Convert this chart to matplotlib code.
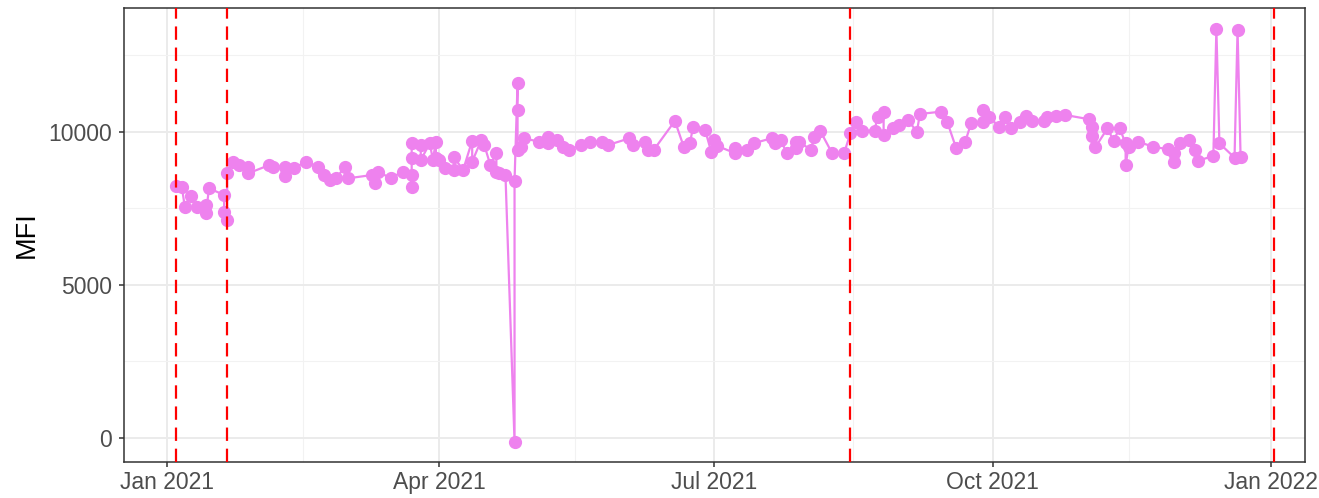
import numpy as np
import pandas as pd
import matplotlib
matplotlib.use("Agg")
import matplotlib.pyplot as plt

plt.rcParams['font.family'] = ['Liberation Sans', 'DejaVu Sans']

# days since 2021-01-01 and MFI values
day = [3, 5, 6, 8, 10, 13, 13, 14, 19, 19, 20, 20, 22, 24, 27, 27, 34, 35, 39, 39,
       42, 46, 50, 52, 54, 56, 59, 60, 68, 69, 70, 74, 78, 81, 81, 81, 81, 84, 84, 87,
       88, 89, 89, 90, 92, 95, 95, 98, 101, 101, 104, 105, 107, 109, 109, 110, 112, 115, 115, 116,
       116, 116, 117, 118, 123, 126, 126, 129, 131, 133, 137, 140, 144, 146, 153, 154, 158, 159, 161, 168,
       171, 173, 174, 178, 180, 181, 182, 188, 188, 192, 194, 200, 201, 203, 205, 208, 208, 209, 213, 214,
       216, 220, 224, 226, 228, 230, 234, 235, 237, 237, 240, 242, 245, 248, 249, 256, 258, 261, 264, 266,
       270, 270, 272, 275, 277, 279, 282, 284, 286, 290, 291, 294, 297, 305, 306, 306, 307, 311, 313, 315,
       317, 317, 318, 321, 326, 331, 333, 333, 335, 338, 340, 341, 346, 347, 348, 353, 354, 355]
mfi = [8245, 8213, 7560, 7909, 7560, 7614, 7343, 8160, 7941, 7396, 7124, 8650, 9030, 8921, 8866, 8650, 8921, 8866, 8866, 8573,
       8813, 9030, 8866, 8595, 8431, 8486, 8866, 8486, 8595, 8323, 8703, 8486, 8703, 8595, 8213, 9141, 9631, 9576, 9085, 9631,
       9085, 9686, 9141, 9085, 8813, 8758, 9173, 8758, 9716, 9030, 9738, 9576, 8921, 9323, 8703, 8650, 8595, -120, 8409, 11611,
       10719, 9412, 9520, 9794, 9686, 9631, 9847, 9738, 9520, 9412, 9576, 9686, 9686, 9576, 9794, 9576, 9686, 9412, 9412, 10360,
       9500, 9631, 10174, 10065, 9357, 9738, 9543, 9304, 9467, 9412, 9631, 9794, 9631, 9738, 9304, 9686, 9467, 9686, 9412, 9847,
       10043, 9304, 9323, 9956, 10337, 10043, 10043, 10501, 10664, 9902, 10120, 10229, 10392, 10010, 10588, 10664, 10337, 9467, 9686, 10305,
       10337, 10719, 10501, 10174, 10501, 10120, 10337, 10523, 10370, 10370, 10501, 10523, 10556, 10414, 9869, 10174, 9500, 10120, 9716, 10120,
       9631, 8921, 9520, 9686, 9520, 9434, 9304, 9030, 9631, 9738, 9412, 9063, 9216, 13356, 9631, 9160, 13334, 9193]

# dashed reference dates
vlines = ["2021-01-04", "2021-01-21", "2021-08-15", "2022-01-02"]

start = pd.Timestamp("2021-01-01")
dates = start + pd.to_timedelta(day, unit="D")

fig = plt.figure(figsize=(13.19, 4.98), dpi=100)
ax = fig.add_axes([0.094, 0.0723, 0.8954, 0.9117])

ax.set_axisbelow(True)
ax.grid(True, which="major", color="#EBEBEB", linewidth=1.4)
ax.grid(True, which="minor", color="#F2F2F2", linewidth=0.8)

ax.plot(dates, mfi, color="violet", linewidth=1.6, zorder=3)
ax.plot(dates, mfi, "o", color="violet", markersize=8.5, zorder=4)

for v in vlines:
    ax.axvline(pd.Timestamp(v), color="red", linestyle=(0, (6, 3.5)), linewidth=1.6, zorder=5)

xt = pd.to_datetime(["2021-01-01", "2021-04-01", "2021-07-01", "2021-10-01", "2022-01-01"])
ax.set_xticks(xt)
ax.set_xticklabels(["Jan 2021", "Apr 2021", "Jul 2021", "Oct 2021", "Jan 2022"])
ax.set_xticks(pd.to_datetime(["2021-02-15", "2021-05-16", "2021-08-16", "2021-11-15"]), minor=True)
ax.set_yticks([0, 5000, 10000])
ax.set_yticks([2500, 7500, 12500], minor=True)

ax.set_xlim(start - pd.Timedelta(days=14.1), start + pd.Timedelta(days=376.3))
ax.set_ylim(-784, 14052)

ax.tick_params(axis="both", which="major", labelsize=16.5, labelcolor="#4D4D4D",
               color="#333333", length=3.6, width=1.1, pad=3)
ax.tick_params(axis="y", which="major", pad=5)
ax.tick_params(axis="both", which="minor", length=0)
ax.set_ylabel("MFI", fontsize=19.5, labelpad=6)

for s in ax.spines.values():
    s.set_color("#333333")
    s.set_linewidth(1.1)

fig.savefig("out.png", dpi=100)
